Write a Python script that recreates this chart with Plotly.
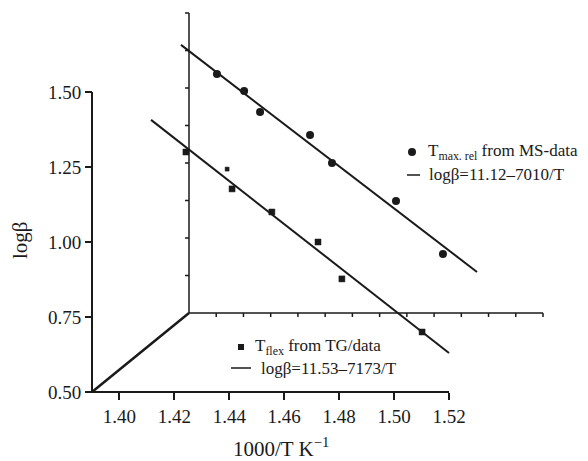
import plotly.graph_objects as go

# ---- data (in front-axis units) ----
ms_x = [1.4355, 1.4454, 1.4512, 1.4694, 1.4774, 1.5007, 1.5178]
ms_y = [1.560, 1.503, 1.433, 1.357, 1.263, 1.137, 0.960]
ms_fit_x = [1.4224, 1.5302]
ms_fit_y = [1.657, 0.900]

tg_x = [1.4242, 1.4392, 1.4410, 1.4555, 1.4723, 1.4810, 1.5102]
tg_y = [1.300, 1.243, 1.177, 1.100, 1.000, 0.877, 0.700]
tg_fit_x = [1.4115, 1.5200]
tg_fit_y = [1.407, 0.630]

x_ticks = [1.40, 1.42, 1.44, 1.46, 1.48, 1.50, 1.52]
y_ticks = [0.50, 0.75, 1.00, 1.25, 1.50]

# ---- geometry (pixels) ----
W, H = 588, 461
FX0, FX1 = 92, 449      # front x axis pixel span (1.39 .. 1.52)
FY0, FY1 = 392, 92      # front y axis pixel span (0.50 .. 1.50)
XMIN, XMAX = 1.39, 1.52
YMIN, YMAX = 0.50, 1.50
BXP, BYP = 189, 313     # back corner (pixels)
BRIGHTP = 543           # right end of back x axis (pixels)

def px(x):
    return x / W

def py(y):
    return 1 - y / H

xscale = (FX1 - FX0) / (XMAX - XMIN)
yscale = (FY0 - FY1) / (YMAX - YMIN)
xr = [XMIN - FX0 / xscale, XMIN + (W - FX0) / xscale]
yr = [YMIN - (H - FY0) / yscale, YMIN + FY0 / yscale]

# back frame in data units
BX = XMIN + (BXP - FX0) / xscale
BY = YMIN + (FY0 - BYP) / yscale
BXR = XMIN + (BRIGHTP - FX0) / xscale
B_NX = 13
B_DX = (BXR - BX) / B_NX
B_DY = 0.125
B_NY = 8
BTOP = BY + B_NY * B_DY

FONT = "Liberation Serif"
INK = "#1a1a1a"

fig = go.Figure()
fig.add_trace(go.Scatter(x=ms_fit_x, y=ms_fit_y, mode="lines",
                         line=dict(color=INK, width=2),
                         showlegend=False, name="logβ=11.12–7010/T"))
fig.add_trace(go.Scatter(x=tg_fit_x, y=tg_fit_y, mode="lines",
                         line=dict(color=INK, width=2),
                         showlegend=False, name="logβ=11.53–7173/T"))
fig.add_trace(go.Scatter(x=ms_x, y=ms_y, mode="markers",
                         marker=dict(symbol="circle", size=8, color=INK, opacity=1,
                                     line=dict(width=0)),
                         showlegend=False, name="Tmax. rel from MS-data"))
fig.add_trace(go.Scatter(x=tg_x, y=tg_y, mode="markers",
                         marker=dict(symbol="square", size=[6, 4, 6, 6, 6, 6, 6],
                                     color=INK, opacity=1,
                                     line=dict(width=0.5, color=INK)),
                         showlegend=False, name="Tflex from TG/data"))

tickfont = dict(family=FONT, size=19, color=INK)

fig.update_layout(
    width=W, height=H,
    margin=dict(l=0, r=0, t=0, b=0, pad=0),
    paper_bgcolor="white",
    plot_bgcolor="white",
    showlegend=False,
    xaxis=dict(domain=[0, 1], range=xr, anchor="free", position=py(FY0),
               tickmode="array", tickvals=x_ticks,
               ticktext=[f"{v:.2f}" for v in x_ticks],
               ticks="outside", ticklen=7, tickwidth=2, tickcolor=INK,
               showline=False, showgrid=False, zeroline=False,
               tickfont=tickfont, fixedrange=True, automargin=False),
    yaxis=dict(domain=[0, 1], range=yr, anchor="free", position=px(FX0),
               tickmode="array", tickvals=y_ticks,
               ticktext=[f"{v:.2f}" for v in y_ticks],
               ticks="outside", ticklen=7, tickwidth=2, tickcolor=INK,
               showline=False, showgrid=False, zeroline=False,
               tickfont=tickfont, fixedrange=True, automargin=False),
)

shapes = [
    # front axis lines
    dict(type="line", xref="x", yref="y", x0=XMIN, y0=YMIN, x1=XMAX, y1=YMIN,
         line=dict(color=INK, width=2)),
    dict(type="line", xref="x", yref="y", x0=XMIN, y0=YMIN, x1=XMIN, y1=YMAX,
         line=dict(color=INK, width=2)),
    # back axis lines
    dict(type="line", xref="x", yref="y", x0=BX, y0=BY, x1=BXR, y1=BY,
         line=dict(color=INK, width=1.5)),
    dict(type="line", xref="x", yref="y", x0=BX, y0=BY, x1=BX, y1=BTOP,
         line=dict(color=INK, width=1.5)),
    # diagonal connecting the front origin with the back corner
    dict(type="line", xref="x", yref="y", x0=XMIN, y0=YMIN, x1=BX, y1=BY,
         line=dict(color=INK, width=2.5)),
]
for k in range(1, B_NX + 1):
    shapes.append(dict(type="line", xref="x", yref="y", ysizemode="pixel",
                       yanchor=BY, x0=BX + k * B_DX, x1=BX + k * B_DX, y0=0, y1=-4,
                       line=dict(color=INK, width=1.5)))
for k in range(1, B_NY + 1):
    shapes.append(dict(type="line", xref="x", yref="y", xsizemode="pixel",
                       xanchor=BX, y0=BY + k * B_DY, y1=BY + k * B_DY, x0=0, x1=-4,
                       line=dict(color=INK, width=1.5)))
# legend symbols
shapes += [
    dict(type="circle", xref="paper", yref="paper",
         xsizemode="pixel", ysizemode="pixel",
         xanchor=px(412), yanchor=py(152), x0=-4, x1=4, y0=-4, y1=4,
         fillcolor=INK, line=dict(width=0)),
    dict(type="line", xref="paper", yref="paper",
         x0=px(407), y0=py(175), x1=px(420), y1=py(175),
         line=dict(color=INK, width=1.5)),
    dict(type="rect", xref="paper", yref="paper",
         xsizemode="pixel", ysizemode="pixel",
         xanchor=px(241), yanchor=py(347), x0=-3, x1=3, y0=-3, y1=3,
         fillcolor=INK, line=dict(width=0)),
    dict(type="line", xref="paper", yref="paper",
         x0=px(231), y0=py(368), x1=px(251), y1=py(368),
         line=dict(color=INK, width=1.5)),
]
fig.update_layout(shapes=shapes)

legfont = dict(family=FONT, size=17, color=INK)
annotations = [
    dict(text="T<sub>max. rel</sub> from MS-data", x=px(426), y=py(152),
         xref="paper", yref="paper", xanchor="left", yanchor="middle",
         showarrow=False, font=legfont),
    dict(text="logβ=11.12–7010/T", x=px(427), y=py(175),
         xref="paper", yref="paper", xanchor="left", yanchor="middle",
         showarrow=False, font=legfont),
    dict(text="T<sub>flex</sub> from TG/data", x=px(253), y=py(347),
         xref="paper", yref="paper", xanchor="left", yanchor="middle",
         showarrow=False, font=legfont),
    dict(text="logβ=11.53–7173/T", x=px(259), y=py(368),
         xref="paper", yref="paper", xanchor="left", yanchor="middle",
         showarrow=False, font=legfont),
    dict(text="logβ", x=px(20), y=py(240), textangle=-90,
         xref="paper", yref="paper", xanchor="center", yanchor="middle",
         showarrow=False, font=dict(family=FONT, size=21, color=INK)),
    dict(text="1000/T K<sup>−1</sup>", x=px(281), y=py(447),
         xref="paper", yref="paper", xanchor="center", yanchor="middle",
         showarrow=False, font=dict(family=FONT, size=21, color=INK)),
]
fig.update_layout(annotations=annotations)

fig.write_html("out.html",
               config={"displayModeBar": False, "staticPlot": True},
               post_script="document.body.style.margin='0px';document.body.style.overflow='hidden';")
